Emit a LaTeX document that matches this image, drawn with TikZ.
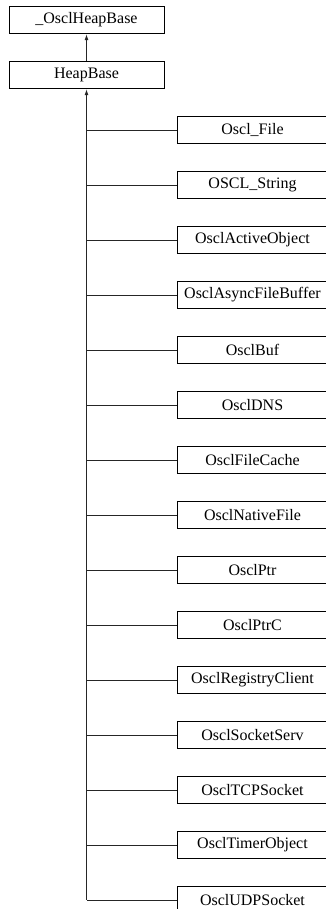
\documentclass[tikz,border=0pt]{standalone}
\usepackage{fontspec}
\setmainfont{Liberation Serif}
\usetikzlibrary{arrows.meta,positioning}

\begin{document}
\begin{tikzpicture}[node distance={55pt},
    main/.style = {draw, rectangle, line width=1pt, minimum height=27.5pt, inner sep=0pt, font=\fontsize{16}{19}\selectfont},
    top/.style = {main, minimum width=155pt},
    sub/.style = {main, minimum width=151pt},
    edge/.style = {line width=0.8pt, black!85},
    inh/.style = {edge, -{Latex[length=6pt,width=4pt]}}]
        \clip (0,0) rectangle (326pt,-909pt);
        \node[top](1) at (86.5pt,-20pt){\_OsclHeapBase};
        \node[top](2)[below of =1]{HeapBase};
        \node[sub](3) at (252.5pt,-130pt){Oscl\_File};
        \node[sub](4)[below of =3]{OSCL\_String};
        \node[sub](5)[below of =4]{OsclActiveObject};
        \node[sub](6)[below of =5]{OsclAsyncFileBuffer};
        \node[sub](7)[below of =6]{OsclBuf};
        \node[sub](8)[below of =7]{OsclDNS};
        \node[sub](9)[below of =8]{OsclFileCache};
        \node[sub](10)[below of =9]{OsclNativeFile};
        \node[sub](11)[below of =10]{OsclPtr};
        \node[sub](12)[below of =11]{OsclPtrC};
        \node[sub](13)[below of =12]{OsclRegistryClient};
        \node[sub](14)[below of =13]{OsclSocketServ};
        \node[sub](15)[below of =14]{OsclTCPSocket};
        \node[sub](16)[below of =15]{OsclTimerObject};
        \node[sub](17)[below of =16]{OsclUDPSocket};
        \coordinate (t) at (2.south |- 17.west);

        \draw[inh] (2) -- (1);
        \draw[inh] (t) -- (2);
        \draw[edge] (3.west) -- (3.west -| t);
        \draw[edge] (4.west) -- (4.west -| t);
        \draw[edge] (5.west) -- (5.west -| t);
        \draw[edge] (6.west) -- (6.west -| t);
        \draw[edge] (7.west) -- (7.west -| t);
        \draw[edge] (8.west) -- (8.west -| t);
        \draw[edge] (9.west) -- (9.west -| t);
        \draw[edge] (10.west) -- (10.west -| t);
        \draw[edge] (11.west) -- (11.west -| t);
        \draw[edge] (12.west) -- (12.west -| t);
        \draw[edge] (13.west) -- (13.west -| t);
        \draw[edge] (14.west) -- (14.west -| t);
        \draw[edge] (15.west) -- (15.west -| t);
        \draw[edge] (16.west) -- (16.west -| t);
        \draw[edge] (17.west) -- (t);
    \end{tikzpicture}
\end{document}
